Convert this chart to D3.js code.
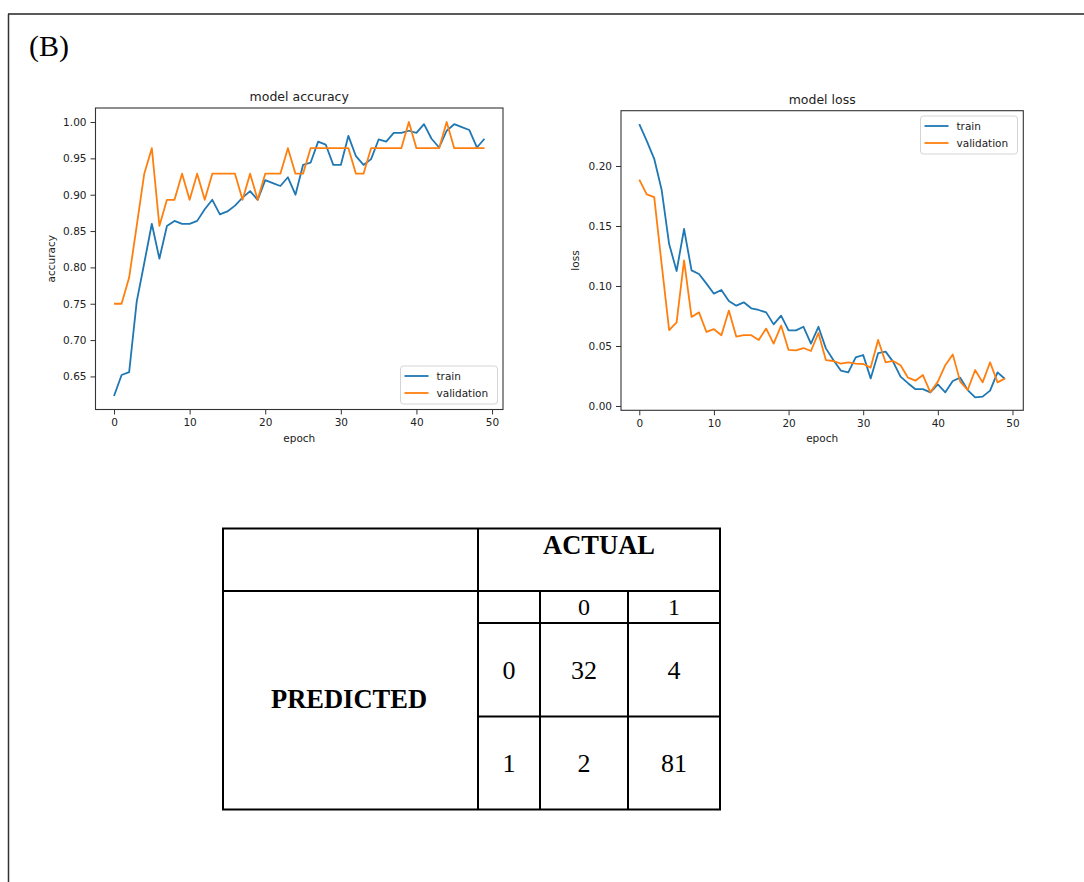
<!DOCTYPE html>
<html>
<head>
<meta charset="utf-8">
<script src="https://cdn.jsdelivr.net/npm/d3@7"></script>
<style>
  body { margin: 0; background: #fff; }
  svg text { fill: #222; }
  .tick text { font-family: "DejaVu Sans", sans-serif; font-size: 10.5px; }
  .tick line { stroke: #333; }
  .tbl text { fill: #000; }
</style>
</head>
<body>
<div id="fig"></div>
<script>
// ---- data ----
var epochs = d3.range(50);

var accTrain = [0.623,0.652,0.656,0.753,0.806,0.860,0.812,0.857,0.864,0.860,
                0.860,0.864,0.880,0.893,0.873,0.877,0.885,0.896,0.905,0.893,
                0.920,0.916,0.912,0.924,0.900,0.941,0.944,0.973,0.969,0.941,
                0.941,0.981,0.953,0.941,0.949,0.976,0.973,0.985,0.985,0.988,
                0.985,0.997,0.977,0.965,0.988,0.997,0.993,0.989,0.965,0.977];

var accVal = [0.750,0.750,0.786,0.857,0.929,0.964,0.857,0.893,0.893,0.929,
              0.893,0.929,0.893,0.929,0.929,0.929,0.929,0.893,0.929,0.893,
              0.929,0.929,0.929,0.964,0.929,0.929,0.964,0.964,0.964,0.964,
              0.964,0.964,0.929,0.929,0.964,0.964,0.964,0.964,0.964,1.000,
              0.964,0.964,0.964,0.964,1.000,0.964,0.964,0.964,0.964,0.964];

var lossTrain = [0.235,0.221,0.206,0.180,0.135,0.1125,0.1475,0.113,0.110,0.102,
                 0.0936,0.0967,0.0875,0.0836,0.0864,0.0814,0.080,0.078,0.068,0.0753,
                 0.063,0.063,0.066,0.052,0.066,0.048,0.0383,0.0295,0.028,0.0405,
                 0.0425,0.023,0.044,0.0453,0.037,0.0245,0.019,0.014,0.014,0.0114,
                 0.018,0.0114,0.0208,0.0236,0.0133,0.0072,0.0078,0.0128,0.028,0.0225];

var lossVal = [0.1886,0.1764,0.174,0.118,0.0633,0.0697,0.1214,0.0742,0.078,0.0617,
               0.064,0.059,0.0795,0.0578,0.059,0.059,0.055,0.0645,0.052,0.067,
               0.0467,0.0464,0.0483,0.0458,0.0608,0.0383,0.0375,0.0353,0.0364,0.0353,
               0.035,0.032,0.055,0.0364,0.0375,0.034,0.0236,0.0211,0.0258,0.0114,
               0.0203,0.034,0.043,0.0203,0.0133,0.030,0.0197,0.0364,0.0197,0.023];

var xTicks = [0, 10, 20, 30, 40, 50];
var accTicks = [0.65, 0.70, 0.75, 0.80, 0.85, 0.90, 0.95, 1.00];
var lossTicks = [0.00, 0.05, 0.10, 0.15, 0.20];
var seriesNames = ["train", "validation"];
var seriesColors = ["#1f77b4", "#ff7f0e"];

var actualLabels = ["0", "1"];
var predictedLabels = ["0", "1"];
var confusion = [[32, 4], [2, 81]];

var W = 1084, H = 882;

var svg = d3.select("#fig").append("svg")
    .attr("width", W)
    .attr("height", H);

// outer frame (top + left edge only visible)
svg.append("line").attr("x1", 8).attr("x2", W).attr("y1", 14).attr("y2", 14)
    .attr("stroke", "#222").attr("stroke-width", 1.5);
svg.append("line").attr("x1", 8.5).attr("x2", 8.5).attr("y1", 14).attr("y2", H)
    .attr("stroke", "#333").attr("stroke-width", 1.5);

svg.append("text")
    .attr("x", 29).attr("y", 56)
    .style("font-family", "'Liberation Serif', 'Times New Roman', serif")
    .style("font-size", "30px")
    .style("fill", "#000")
    .text("(B)");

function drawChart(cfg) {
  var x = d3.scaleLinear().domain([-2.45, 51.45]).range([cfg.left, cfg.right]);
  var y = d3.scaleLinear().domain(cfg.yDomain).range([cfg.bottom, cfg.top]);
  var g = svg.append("g");

  g.append("g")
      .attr("class", "x axis")
      .attr("transform", "translate(0," + cfg.bottom + ")")
      .call(d3.axisBottom(x).tickValues(xTicks).tickSize(5).tickPadding(4).tickFormat(d3.format("d")))
      .call(function(a) { a.select(".domain").remove(); });

  g.append("g")
      .attr("class", "y axis")
      .attr("transform", "translate(" + cfg.left + ",0)")
      .call(d3.axisLeft(y).tickValues(cfg.yTicks).tickSize(5).tickPadding(4).tickFormat(d3.format(".2f")))
      .call(function(a) { a.select(".domain").remove(); });

  g.selectAll(".tick text").attr("fill", "#222");

  var line = d3.line()
      .x(function(d, i) { return x(epochs[i]); })
      .y(function(d) { return y(d); });

  [cfg.train, cfg.val].forEach(function(s, i) {
    g.append("path")
        .attr("d", line(s))
        .attr("fill", "none")
        .attr("stroke", seriesColors[i])
        .attr("stroke-width", 1.8)
        .attr("stroke-linejoin", "round");
  });

  g.append("rect")
      .attr("x", cfg.left).attr("y", cfg.top)
      .attr("width", cfg.right - cfg.left).attr("height", cfg.bottom - cfg.top)
      .attr("fill", "none").attr("stroke", "#333").attr("stroke-width", 1.1);

  g.append("text")
      .attr("x", (cfg.left + cfg.right) / 2).attr("y", cfg.top - 7)
      .attr("text-anchor", "middle")
      .style("font-family", "'DejaVu Sans', sans-serif").style("font-size", "12.5px")
      .text(cfg.title);

  g.append("text")
      .attr("x", (cfg.left + cfg.right) / 2).attr("y", cfg.bottom + 32)
      .attr("text-anchor", "middle")
      .style("font-family", "'DejaVu Sans', sans-serif").style("font-size", "10.5px")
      .text("epoch");

  g.append("text")
      .attr("transform", "translate(" + cfg.ylabelX + "," + (cfg.top + cfg.bottom) / 2 + ") rotate(-90)")
      .attr("text-anchor", "middle")
      .style("font-family", "'DejaVu Sans', sans-serif").style("font-size", "10.5px")
      .text(cfg.ylabel);

  // legend
  var lg = g.append("g").attr("transform", "translate(" + cfg.legendX + "," + cfg.legendY + ")");
  lg.append("rect")
      .attr("width", 97).attr("height", 38).attr("rx", 3)
      .attr("fill", "#fff").attr("fill-opacity", 0.85)
      .attr("stroke", "#d4d4d4").attr("stroke-width", 1);
  seriesNames.forEach(function(n, i) {
    var yy = 10 + i * 17;
    lg.append("line").attr("x1", 4).attr("x2", 28).attr("y1", yy).attr("y2", yy)
        .attr("stroke", seriesColors[i]).attr("stroke-width", 1.8);
    lg.append("text").attr("x", 36).attr("y", yy + 4)
        .style("font-family", "'DejaVu Sans', sans-serif").style("font-size", "10.5px")
        .text(n);
  });
}

drawChart({
  left: 95.5, right: 503, top: 108, bottom: 409.5,
  yDomain: [0.6045, 1.0193], yTicks: accTicks,
  train: accTrain, val: accVal,
  title: "model accuracy", ylabel: "accuracy", ylabelX: 55,
  legendX: 400.5, legendY: 366
});

drawChart({
  left: 621, right: 1023.3, top: 110.7, bottom: 410.3,
  yDomain: [-0.0036, 0.2461], yTicks: lossTicks,
  train: lossTrain, val: lossVal,
  title: "model loss", ylabel: "loss", ylabelX: 579,
  legendX: 920.5, legendY: 116
});

// ---- confusion table ----
var serif = "'Liberation Serif', 'Times New Roman', serif";
var t = svg.append("g").attr("class", "tbl");
var tL = 223, tR = 720, tT = 528.5, tB = 809.5;
var splitX = 478, headY = 591;
var colX = [478, 540, 628, 720];
var rowY = [591, 623, 716.5, 809.5];

t.append("rect").attr("x", tL).attr("y", tT).attr("width", tR - tL).attr("height", tB - tT)
    .attr("fill", "none").attr("stroke", "#000").attr("stroke-width", 2);
t.append("line").attr("x1", splitX).attr("x2", splitX).attr("y1", tT).attr("y2", tB)
    .attr("stroke", "#000").attr("stroke-width", 2);
t.append("line").attr("x1", tL).attr("x2", tR).attr("y1", headY).attr("y2", headY)
    .attr("stroke", "#000").attr("stroke-width", 2);
t.selectAll(".vcol").data(colX.slice(1, 3)).enter().append("line")
    .attr("x1", function(d) { return d; }).attr("x2", function(d) { return d; })
    .attr("y1", headY).attr("y2", tB)
    .attr("stroke", "#000").attr("stroke-width", 2);
t.selectAll(".hrow").data(rowY.slice(1, 3)).enter().append("line")
    .attr("x1", splitX).attr("x2", tR)
    .attr("y1", function(d) { return d; }).attr("y2", function(d) { return d; })
    .attr("stroke", "#000").attr("stroke-width", 2);

t.append("text").attr("x", 599).attr("y", 553.5).attr("text-anchor", "middle")
    .style("font-family", serif).style("font-size", "26.5px").style("font-weight", "bold")
    .text("ACTUAL");
t.append("text").attr("x", 349).attr("y", 707.5).attr("text-anchor", "middle")
    .style("font-family", serif).style("font-size", "26.5px").style("font-weight", "bold")
    .text("PREDICTED");

// header labels
t.selectAll(".hdr").data(actualLabels).enter().append("text")
    .attr("x", function(d, i) { return (colX[i + 1] + colX[i + 2]) / 2; })
    .attr("y", 615)
    .attr("text-anchor", "middle")
    .style("font-family", serif).style("font-size", "24px")
    .text(function(d) { return d; });

// row labels
t.selectAll(".rl").data(predictedLabels).enter().append("text")
    .attr("x", (colX[0] + colX[1]) / 2)
    .attr("y", function(d, i) { return (rowY[i + 1] + rowY[i + 2]) / 2 + 9; })
    .attr("text-anchor", "middle")
    .style("font-family", serif).style("font-size", "26px")
    .text(function(d) { return d; });

// cell values
confusion.forEach(function(row, r) {
  t.selectAll(".c" + r).data(row).enter().append("text")
      .attr("x", function(d, c) { return (colX[c + 1] + colX[c + 2]) / 2; })
      .attr("y", (rowY[r + 1] + rowY[r + 2]) / 2 + 9)
      .attr("text-anchor", "middle")
      .style("font-family", serif).style("font-size", "26px")
      .text(function(d) { return d; });
});
</script>
</body>
</html>
